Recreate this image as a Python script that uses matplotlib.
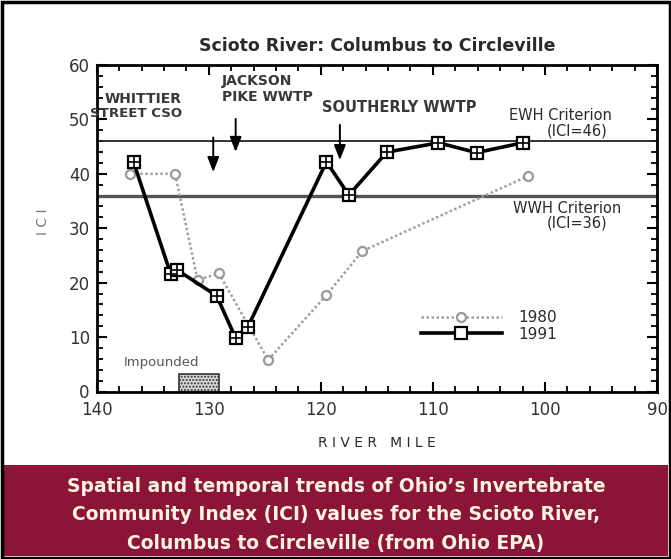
import matplotlib
matplotlib.use("Agg")
import matplotlib.pyplot as plt
from matplotlib.patches import Rectangle
from matplotlib.lines import Line2D

# ---- data ----
mile_1980 = [137.0, 133.0, 131.0, 129.1, 124.7, 119.5, 116.3, 101.5]
ici_1980 = [40.0, 40.0, 20.5, 21.7, 5.8, 17.7, 25.8, 39.6]
mile_1991 = [136.7, 133.4, 132.8, 129.3, 127.6, 126.5, 119.5, 117.5, 114.1, 109.5, 106.1, 102.0]
ici_1991 = [42.1, 21.6, 22.3, 17.6, 9.8, 11.9, 42.2, 36.1, 44.0, 45.7, 43.9, 45.7]
ewh_value = 46
wwh_value = 36
impounded_range = (132.7, 129.1)
impounded_height = 3.3
arrow_x = {"whittier": 129.6, "jackson": 127.6, "southerly": 118.3}

plt.rcParams['font.family'] = ['DejaVu Sans']

fig = plt.figure(figsize=(6.71, 5.59), dpi=100)
W, H = 671, 559

def fx(px):
    return px / W

def fy(py):
    return 1 - py / H

ax = fig.add_axes([fx(96.7), fy(391.5), fx(657) - fx(96.7), fy(65) - fy(391.5)])
ax.set_xlim(140, 90)
ax.set_ylim(0, 60)

txt = '#2a2a2a'

# criterion lines
ax.axhline(ewh_value, color='#222222', lw=1.3, zorder=2)
ax.axhline(wwh_value, color='#555555', lw=2.4, zorder=2)

# 1980 series
ax.plot(mile_1980, ici_1980, linestyle=(0, (1, 1)), color='#a0a0a0', lw=1.8,
        marker='o', markersize=6.5, markerfacecolor='white', markeredgecolor='#999999',
        markeredgewidth=1.6, zorder=3)
# 1991 series
ax.plot(mile_1991, ici_1991, color='black', lw=2.6,
        marker='s', markersize=9, markerfacecolor='white', markeredgecolor='black',
        markeredgewidth=1.6, zorder=4)
ax.plot(mile_1991, ici_1991, linestyle='none', marker='+', markersize=9,
        color='black', markeredgewidth=1.2, zorder=5)

# impounded box
ax.add_patch(Rectangle((impounded_range[0], 0), impounded_range[1] - impounded_range[0],
                       impounded_height, facecolor='#d8d8d8', edgecolor='#333333',
                       hatch='.....', lw=1.2, zorder=2))
ax.text(134.2, 5.4, 'Impounded', fontsize=9.5, color='#555555', ha='center', va='center')

# arrows
arrow_kw = dict(arrowstyle='-|>,head_width=0.35,head_length=0.9', color='black', lw=1.4)
ax.annotate('', xy=(arrow_x["whittier"], 39.8), xytext=(arrow_x["whittier"], 47.2),
            arrowprops=arrow_kw)
ax.annotate('', xy=(arrow_x["jackson"], 43.5), xytext=(arrow_x["jackson"], 50.6),
            arrowprops=arrow_kw)
ax.annotate('', xy=(arrow_x["southerly"], 42.0), xytext=(arrow_x["southerly"], 49.5),
            arrowprops=arrow_kw)

# annotation text
ann = dict(fontsize=10, color='#383838', fontweight='bold')
ax.text(132.4, 53.8, 'WHITTIER', ha='right', va='center', **ann)
ax.text(132.4, 51.0, 'STREET CSO', ha='right', va='center', fontsize=9.6,
        color='#383838', fontweight='bold')
ax.text(128.8, 57.0, 'JACKSON', ha='left', va='center', **ann)
ax.text(128.8, 54.2, 'PIKE WWTP', ha='left', va='center', **ann)
ax.text(119.9, 52.2, 'SOUTHERLY WWTP', ha='left', va='center', fontsize=10.5,
        color='#383838', fontweight='bold')
crit = dict(fontsize=10.5, color=txt, ha='center', va='center')
ax.text(98.6, 50.8, 'EWH Criterion', **crit)
ax.text(97.1, 47.8, '(ICI=46)', **crit)
ax.text(98.0, 33.6, 'WWH Criterion', **crit)
ax.text(97.1, 31.0, '(ICI=36)', **crit)

# ticks
ax.set_xticks([140, 130, 120, 110, 100, 90])
ax.set_xticks(range(90, 141, 2), minor=True)
ax.set_yticks(range(0, 61, 10))
ax.set_yticks(range(0, 61, 2), minor=True)
ax.tick_params(which='both', direction='in', top=True, right=True, colors='black',
               labelcolor='#333333', labelsize=12)
ax.tick_params(which='major', length=7, width=1.5)
ax.tick_params(which='minor', length=4, width=1.3)
ax.tick_params(axis='x', pad=7)
ax.tick_params(axis='y', pad=5)
for s in ax.spines.values():
    s.set_linewidth(2)

ax.set_xlabel('R I V E R   M I L E', fontsize=10, color=txt, labelpad=12)
ax.set_ylabel('I C I', fontsize=10, color='#777777')
ax.yaxis.set_label_coords(-0.083, 0.52)
ax.set_title('Scioto River: Columbus to Circleville', fontsize=12.5, fontweight='bold',
             color=txt, pad=10)

# legend
handles = [
    Line2D([], [], linestyle=(0, (1, 1)), color='#a0a0a0', lw=1.8, marker='o', markersize=6.5,
           markerfacecolor='white', markeredgecolor='#999999', markeredgewidth=1.6),
    Line2D([], [], color='black', lw=2.6, marker='s', markersize=8,
           markerfacecolor='white', markeredgecolor='black', markeredgewidth=1.6),
]
leg = fig.legend(handles, ['1980', '1991'], loc='upper left',
                 bbox_to_anchor=(fx(421), fy(310)), frameon=False, fontsize=11,
                 handlelength=5.3, handletextpad=1.1, labelspacing=0.1, borderpad=0,
                 borderaxespad=0)
for t in leg.get_texts():
    t.set_color(txt)

# caption band
band = Rectangle((fx(3), fy(556)), fx(668) - fx(3), fy(465) - fy(556),
                 transform=fig.transFigure, facecolor='#8a1538', edgecolor='none', zorder=0)
fig.patches.append(band)
cap_lines = ["Spatial and temporal trends of Ohio\u2019s Invertebrate",
             "Community Index (ICI) values for the Scioto River,",
             "Columbus to Circleville (from Ohio EPA)"]
for i, line in enumerate(cap_lines):
    fig.text(fx(336), fy(487 + 28 * i), line, ha='center', va='center', fontsize=13.5,
             fontweight='bold', color='#fff4e0')

# outer border
border = Rectangle((fx(1.5), fy(557.5)), fx(669.5) - fx(1.5), fy(1.5) - fy(557.5),
                   transform=fig.transFigure, facecolor='none', edgecolor='black', lw=2.5)
fig.patches.append(border)

fig.savefig('out.png', dpi=100)
